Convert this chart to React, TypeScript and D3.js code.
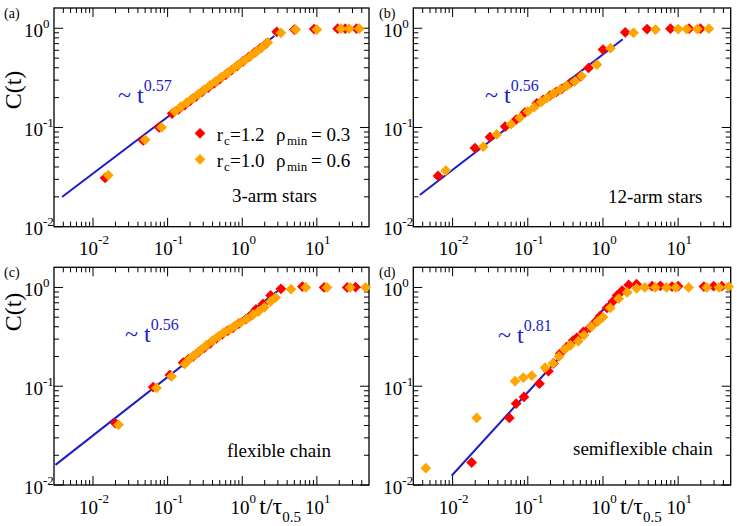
import { useEffect } from "react";
import * as d3 from "d3";

const FONT = "'Liberation Serif', 'Times New Roman', serif";
const RED = "#ff0000";
const ORANGE = "#ffa500";
const BLUE = "#1c1cc8";

const T_DOMAIN: [number, number] = [0.003, 50];
const C_DOMAIN: [number, number] = [0.01, 1.6];
const T_MAJOR = [0.01, 0.1, 1, 10];
const T_MAJOR_EXP = ["-2", "-1", "0", "1"];
const C_MAJOR = [0.01, 0.1, 1];
const C_MAJOR_EXP = ["-2", "-1", "0"];

// (a) 3-arm stars
const starsRed = [
  [0.0145, 0.031], [0.047, 0.074], [0.077, 0.1], [0.115, 0.138], [0.14, 0.152], [0.17, 0.168],
  [0.2, 0.185], [0.24, 0.205], [0.29, 0.228], [0.35, 0.252], [0.42, 0.278], [0.5, 0.308],
  [0.6, 0.34], [0.72, 0.378], [0.86, 0.418], [1.03, 0.465], [1.23, 0.515], [1.47, 0.57],
  [1.75, 0.63], [2.1, 0.7], [2.9, 0.92], [5.0, 0.97], [9.2, 0.98], [19, 0.99], [24, 0.99], [34, 0.99],
];
const starsOrange = [
  [0.016, 0.033], [0.05, 0.075], [0.083, 0.1], [0.125, 0.145], [0.15, 0.162], [0.18, 0.178],
  [0.215, 0.196], [0.26, 0.218], [0.31, 0.24], [0.37, 0.266], [0.44, 0.292], [0.53, 0.322],
  [0.63, 0.355], [0.76, 0.392], [0.9, 0.43], [1.08, 0.475], [1.3, 0.525], [1.55, 0.58],
  [1.85, 0.64], [2.2, 0.72], [3.3, 0.9], [5.2, 0.97], [10, 0.97], [21, 0.99], [27, 0.99], [37, 0.99],
];
const starsFit = [[0.00384, 0.0199], [2.7, 0.836]];

// (b) 12-arm stars
const stars12Red = [
  [0.0064, 0.0325], [0.0198, 0.062], [0.0314, 0.08], [0.05, 0.102], [0.07, 0.12], [0.092, 0.142],
  [0.132, 0.175], [0.16, 0.19], [0.198, 0.21], [0.24, 0.228], [0.284, 0.245], [0.366, 0.28],
  [0.5, 0.33], [0.643, 0.398], [1.0, 0.61], [1.98, 0.91], [3.86, 0.98], [7.9, 0.99], [14, 0.99], [19.8, 0.99],
];
const stars12Orange = [
  [0.0081, 0.0368], [0.0256, 0.064], [0.0386, 0.085], [0.06, 0.108], [0.078, 0.125], [0.1, 0.145],
  [0.122, 0.16], [0.15, 0.18], [0.18, 0.198], [0.22, 0.22], [0.27, 0.242], [0.33, 0.262],
  [0.42, 0.29], [0.52, 0.33], [0.83, 0.43], [1.26, 0.63], [2.55, 0.9], [5, 0.97], [10, 0.98],
  [13, 0.98], [18, 0.98], [25.6, 0.99],
];
const stars12Fit = [[0.00366, 0.0209], [1.83, 0.774]];

// (c) flexible chain
const flexRed = [
  [0.0198, 0.0424], [0.064, 0.098], [0.107, 0.13], [0.161, 0.173], [0.19, 0.188], [0.22, 0.2],
  [0.26, 0.222], [0.31, 0.245], [0.37, 0.27], [0.45, 0.305], [0.54, 0.335], [0.64, 0.365],
  [0.75, 0.39], [0.9, 0.43], [1.12, 0.477], [1.3, 0.52], [1.53, 0.6], [1.9, 0.68], [2.4, 0.83],
  [3.3, 0.97], [6.4, 1.02], [12.5, 1.0], [25.5, 1.0], [33, 1.01],
];
const flexOrange = [
  [0.022, 0.0407], [0.071, 0.096], [0.113, 0.126], [0.17, 0.168], [0.2, 0.19], [0.235, 0.21],
  [0.28, 0.235], [0.33, 0.26], [0.4, 0.29], [0.48, 0.32], [0.57, 0.35], [0.68, 0.375],
  [0.8, 0.41], [0.95, 0.44], [1.15, 0.48], [1.4, 0.53], [1.65, 0.57], [1.98, 0.63], [2.4, 0.72],
  [2.8, 0.79], [4.5, 0.96], [7.1, 1.0], [13.7, 1.0], [28, 1.0], [45, 1.0],
];
const flexFit = [[0.00314, 0.016], [3.28, 0.977]];

// (d) semiflexible chain
const semiRed = [
  [0.0179, 0.0169], [0.0569, 0.0477], [0.07, 0.0667], [0.089, 0.078], [0.143, 0.106], [0.188, 0.142],
  [0.22, 0.17], [0.27, 0.215], [0.33, 0.25], [0.4, 0.29], [0.45, 0.31], [0.55, 0.355],
  [0.67, 0.393], [0.8, 0.45], [0.92, 0.515], [1.13, 0.62], [1.35, 0.72], [1.54, 0.83],
  [1.8, 0.93], [2.2, 1.06], [2.8, 1.08], [4.5, 1.03], [5.8, 1.04], [8.3, 1.02], [10, 1.03],
  [22, 1.02], [29.6, 1.03], [38, 1.03],
];
const semiOrange = [
  [0.0044, 0.0148], [0.0209, 0.0477], [0.0676, 0.1125], [0.087, 0.122], [0.113, 0.128], [0.17, 0.154],
  [0.216, 0.17], [0.26, 0.2], [0.31, 0.235], [0.37, 0.26], [0.47, 0.286], [0.56, 0.33],
  [0.7, 0.4], [0.85, 0.45], [1.0, 0.5], [1.25, 0.62], [1.62, 0.77], [2.1, 0.89], [2.8, 0.98],
  [3.6, 1.0], [4.96, 1.0], [7, 1.0], [9.3, 1.0], [13.8, 1.0], [24, 1.0], [35, 1.0], [47, 1.02],
];
const semiFit = [[0.0097, 0.0124], [1.67, 0.91]];

const panels = [
  { tag: "(a)", tagAt: [4, 18], box: { x0: 54, x1: 369, y0: 8, y1: 226.7 }, red: starsRed, orange: starsOrange, fit: starsFit,
    title: "3-arm stars", titleAt: [232, 202], exp: "0.57", expAt: [118, 103], ylabelY: 90, xlabel: false, legend: true },
  { tag: "(b)", tagAt: [379, 18], box: { x0: 413.3, x1: 730.7, y0: 8, y1: 226.7 }, red: stars12Red, orange: stars12Orange, fit: stars12Fit,
    title: "12-arm stars", titleAt: [608, 203], exp: "0.56", expAt: [485, 103], ylabelY: null, xlabel: false, legend: false },
  { tag: "(c)", tagAt: [4, 277], box: { x0: 54, x1: 369, y0: 267.3, y1: 485 }, red: flexRed, orange: flexOrange, fit: flexFit,
    title: "flexible chain", titleAt: [227, 457], exp: "0.56", expAt: [125, 342], ylabelY: 312, xlabel: true, legend: false },
  { tag: "(d)", tagAt: [379, 277], box: { x0: 413.3, x1: 730.7, y0: 267.3, y1: 485 }, red: semiRed, orange: semiOrange, fit: semiFit,
    title: "semiflexible chain", titleAt: [573, 455], exp: "0.81", expAt: [498, 343], ylabelY: null, xlabel: true, legend: false },
];

const isMajor = (v: number) => Math.abs(Math.log10(v) - Math.round(Math.log10(v))) < 1e-6;
const diamond = d3.symbol().type(d3.symbolSquare).size(58)();

function Legend() {
  const rows = [
    { color: RED, rc: "=1.2", rho: "= 0.3", y: 133.3 },
    { color: ORANGE, rc: "=1.0", rho: "= 0.6", y: 159.3 },
  ];
  return (
    <g fontSize={19}>
      {rows.map((r) => (
        <g key={r.rc}>
          <path d={diamond} fill={r.color} transform={`translate(200,${r.y}) rotate(45)`} />
          <text x={216.7} y={r.y + 7.5}>r</text>
          <text x={224} y={r.y + 12} fontSize={13}>c</text>
          <text x={230} y={r.y + 7.5}>{r.rc}</text>
          <text x={276} y={r.y + 7.5}>ρ</text>
          <text x={287} y={r.y + 12} fontSize={13}>min</text>
          <text x={311} y={r.y + 7.5}>{r.rho}</text>
        </g>
      ))}
    </g>
  );
}

function Panel({ p }: { p: any }) {
  const { box } = p;
  const x = d3.scaleLog().domain(T_DOMAIN).range([box.x0, box.x1]);
  const y = d3.scaleLog().domain(C_DOMAIN).range([box.y1, box.y0]);
  const xt = x.ticks().filter((v) => v > T_DOMAIN[0] && v < T_DOMAIN[1]);
  const yt = y.ticks().filter((v) => v >= C_DOMAIN[0] && v < C_DOMAIN[1]);
  const line = d3.line<number[]>().x((d) => x(d[0])).y((d) => y(d[1]));
  const MJ = 9, MN = 5;

  return (
    <g>
      <text x={p.tagAt[0]} y={p.tagAt[1]} fontSize={14}>{p.tag}</text>

      {/* ticks, mirrored on all four sides */}
      <g stroke="#000" strokeWidth={1}>
        {xt.map((v, i) => {
          const len = isMajor(v) ? MJ : MN;
          const px = x(v);
          return (
            <g key={"x" + i}>
              <line x1={px} x2={px} y1={box.y1} y2={box.y1 - len} />
              <line x1={px} x2={px} y1={box.y0} y2={box.y0 + len} />
            </g>
          );
        })}
        {yt.map((v, i) => {
          const len = isMajor(v) ? MJ : MN;
          const py = y(v);
          return (
            <g key={"y" + i}>
              <line x1={box.x0} x2={box.x0 + len} y1={py} y2={py} />
              <line x1={box.x1} x2={box.x1 - len} y1={py} y2={py} />
            </g>
          );
        })}
      </g>
      <rect x={box.x0} y={box.y0} width={box.x1 - box.x0} height={box.y1 - box.y0}
        fill="none" stroke="#000" strokeWidth={1.3} />

      {T_MAJOR.map((v, i) => (
        <text key={"xl" + i} x={x(v) + 1} y={box.y1 + 28.5} fontSize={19} textAnchor="middle">
          10<tspan fontSize={13} dy={-11}>{T_MAJOR_EXP[i]}</tspan>
        </text>
      ))}
      {C_MAJOR.map((v, i) => (
        <text key={"yl" + i} x={box.x0 - 30} y={y(v) + 8.5} fontSize={19}>
          10<tspan fontSize={13} dy={-9}>{C_MAJOR_EXP[i]}</tspan>
        </text>
      ))}

      {p.ylabelY !== null && (
        <text transform={`translate(21,${p.ylabelY}) rotate(-90)`} fontSize={24} textAnchor="middle">C(t)</text>
      )}
      {p.xlabel && (
        <text x={x(1) + 17} y={box.y1 + 29} fontSize={24}>
          t/τ<tspan fontSize={15} dy={8}>0.5</tspan>
        </text>
      )}

      <path d={line(p.fit) || ""} fill="none" stroke={BLUE} strokeWidth={2} />

      {p.red.map((d: number[], i: number) => (
        <path key={"r" + i} d={diamond} fill={RED}
          transform={`translate(${x(d[0])},${y(d[1])}) rotate(45)`} />
      ))}
      {p.orange.map((d: number[], i: number) => (
        <path key={"o" + i} d={diamond} fill={ORANGE}
          transform={`translate(${x(d[0])},${y(d[1])}) rotate(45)`} />
      ))}

      <text x={p.expAt[0]} y={p.expAt[1]} fontSize={24} fill={BLUE}>
        ~ t<tspan fontSize={16} dy={-12}>{p.exp}</tspan>
      </text>
      <text x={p.titleAt[0]} y={p.titleAt[1]} fontSize={19}>{p.title}</text>

      {p.legend && <Legend />}
    </g>
  );
}

export default function App() {
  useEffect(() => {
    document.body.style.margin = "0";
  }, []);
  return (
    <svg width={737} height={526} fontFamily={FONT} style={{ display: "block", background: "#fff", fontFamily: FONT }}>
      <rect width={737} height={526} fill="#fff" />
      {panels.map((p) => <Panel key={p.tag} p={p} />)}
    </svg>
  );
}
